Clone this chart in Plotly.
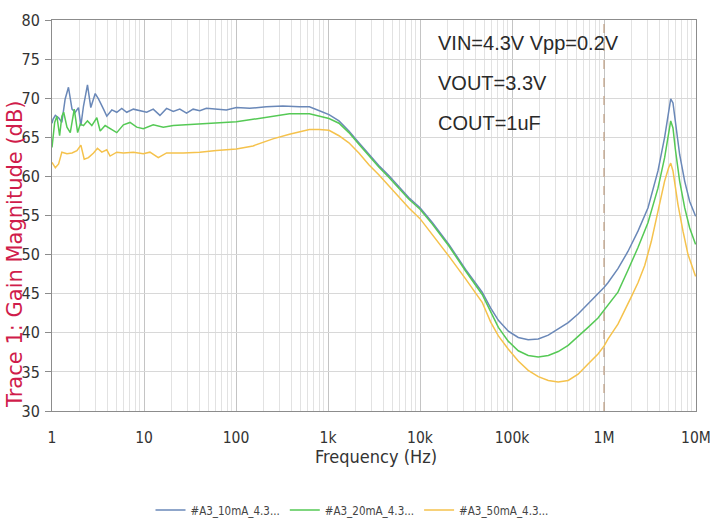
import plotly.graph_objects as go

# ---------------- data ----------------
series_names = ["#A3_10mA_4.3...", "#A3_20mA_4.3...", "#A3_50mA_4.3..."]
series_colors = ["#6a88b8", "#55c955", "#f5c24c"]

freq_10mA = [1.0, 1.025, 1.087, 1.18, 1.28, 1.39, 1.51, 1.65, 1.79, 1.94, 2.06, 2.20, 2.43, 2.64,
             2.95, 3.20, 3.63, 3.94, 4.47, 5.06, 5.73, 6.49, 7.66, 9.06, 10.7, 12.6, 14.9, 17.6,
             20.8, 24.5, 29.0, 34.2, 40.4, 47.7, 61.2, 78.6, 101, 141, 213, 323, 489, 628, 806,
             1025, 1316, 1687, 2166, 2780, 3565, 4577, 5940, 7535, 10000, 13600, 20600, 31300,
             47400, 58500, 71100, 91300, 117000, 150000, 193000, 248000, 318000, 408000, 523000,
             671000, 861000, 1000000, 1104000, 1418000, 1820000, 2340000, 3010000, 3860000,
             4560000, 5040000, 5310000, 5620000, 5960000, 6640000, 7530000, 8540000, 9910000]
gain_10mA = [66.8, 67.3, 67.8, 67.5, 66.9, 69.9, 71.4, 68.6, 68.2, 68.8, 66.5, 69.0, 71.7, 68.8,
             70.6, 69.9, 68.6, 67.7, 68.5, 68.2, 68.7, 68.2, 68.6, 68.4, 68.2, 68.6, 67.8, 68.7,
             68.3, 68.6, 68.1, 68.6, 68.4, 68.7, 68.6, 68.5, 68.8, 68.7, 68.9, 69.0, 68.9, 68.9, 68.4,
             67.9, 67.1, 65.8, 64.3, 62.8, 61.4, 60.1, 58.6, 57.3, 56.0, 54.1, 51.3, 48.1,
             45.2, 43.2, 41.6, 40.2, 39.4, 39.1, 39.2, 39.7, 40.5, 41.3, 42.4,
             43.7, 44.9, 45.8, 46.4, 48.2, 50.4, 53.0, 56.0, 60.7,
             65.0, 68.4, 69.9, 69.4, 67.1, 62.8, 59.4, 56.8, 54.9]

freq_20mA = [1.0, 1.069, 1.13, 1.21, 1.28, 1.34, 1.454, 1.58, 1.745, 1.90, 2.03, 2.20, 2.43, 2.71,
             3.07, 3.34, 3.78, 4.47, 5.06, 5.97, 7.05, 8.33, 9.83, 12.6, 16.2, 20.8, 29.0, 40.4,
             61.2, 101, 153, 252, 381, 628, 806,
             1025, 1316, 1687, 2166, 2780, 3565, 4577, 5940, 7535, 10000, 13600, 20600, 31300,
             47400, 58500, 71100, 91300, 117000, 150000, 193000, 248000, 318000, 408000, 523000,
             671000, 861000, 1000000, 1104000, 1418000, 1820000, 2340000, 3010000, 3860000,
             4560000, 5040000, 5310000, 5620000, 5960000, 6640000, 7530000, 8540000, 9910000]
gain_20mA = [63.7, 66.9, 67.7, 65.2, 67.7, 68.2, 66.3, 65.6, 68.6, 65.6, 66.7, 66.5, 67.1, 66.5,
             67.5, 65.8, 66.5, 66.0, 65.6, 66.6, 66.9, 66.3, 66.1, 66.6, 66.3, 66.5, 66.6, 66.7,
             66.8, 67.0, 67.3, 67.7, 68.0, 68.0, 67.7,
             67.4, 66.8, 65.6, 64.1, 62.6, 61.2, 59.9, 58.4, 57.1, 55.8, 53.9, 51.1, 47.9,
             44.9, 42.8, 40.7, 38.9, 37.7, 37.1, 36.9, 37.1, 37.6, 38.4, 39.5,
             40.7, 41.9, 42.9, 43.5, 45.2, 48.0, 50.9, 54.1, 58.5,
             62.4, 65.6, 67.1, 66.2, 63.5, 59.4, 56.0, 53.4, 51.3]

freq_50mA = [1.0, 1.087, 1.18, 1.28, 1.454, 1.65, 1.866, 2.06, 2.24, 2.49, 2.83, 3.12, 3.48, 3.94,
             4.28, 5.06, 5.97, 7.66, 9.83, 11.6, 14.3, 17.6, 26.7, 40.4, 61.2, 101, 153, 252, 381,
             628, 806,
             1025, 1316, 1687, 2166, 2780, 3565, 4577, 5940, 7535, 10000, 13600, 20600, 31300,
             47400, 58500, 71100, 91300, 117000, 150000, 193000, 248000, 318000, 408000, 523000,
             671000, 861000, 1000000, 1104000, 1418000, 1680000, 1980000, 2340000, 2770000,
             3270000, 3860000, 4560000, 5040000, 5310000, 5620000, 6370000, 7220000, 8190000, 9910000]
gain_50mA = [61.8, 61.1, 61.6, 63.1, 62.9, 63.0, 63.3, 64.0, 62.2, 62.4, 63.0, 63.6, 63.1, 63.4,
             62.6, 63.1, 63.0, 63.1, 62.9, 63.1, 62.4, 63.0, 63.0, 63.1, 63.3, 63.5, 63.9, 64.8, 65.4,
             66.0, 66.0,
             65.9, 65.2, 64.3, 63.0, 61.5, 60.2, 58.8, 57.3, 56.0, 54.6, 52.6, 49.8, 46.9,
             43.9, 41.4, 39.6, 37.9, 36.4, 35.2, 34.4, 33.9, 33.7, 33.9, 34.7,
             36.0, 37.3, 38.3, 39.2, 41.1, 42.8, 44.6, 46.4, 48.6,
             51.7, 55.6, 59.4, 61.1, 61.7, 60.7, 56.4, 53.0, 50.0, 47.2]

x_tick_vals = [1, 10, 100, 1e3, 1e4, 1e5, 1e6, 1e7]
x_tick_text = ["1", "10", "100", "1k", "10k", "100k", "1M", "10M"]
y_tick_vals = [30, 35, 40, 45, 50, 55, 60, 65, 70, 75, 80]

marker_freq = [1e6, 1e6]          # dashed vertical marker
marker_gain = [30, 80]

notes = ["VIN=4.3V Vpp=0.2V", "VOUT=3.3V", "COUT=1uF"]

# ---------------- figure ----------------
W, H = 710, 521
ML, MR, MT, MB = 52, 14, 20, 110
plot_h = H - MT - MB
plot_w = W - ML - MR


def py(pix):  # pixel row -> paper y
    return (H - MB - pix) / plot_h


def px(pix):  # pixel column -> paper x
    return (pix - ML) / plot_w


narrow = "Liberation Sans Narrow, DejaVu Sans Condensed, Arial Narrow, sans-serif"

fig = go.Figure()
fig.add_trace(go.Scatter(x=marker_freq, y=marker_gain, mode="lines",
                         line=dict(color="#c0a084", width=1.2, dash="dash"),
                         showlegend=False, hoverinfo="skip"))
for name, color, fx, gy in zip(series_names, series_colors,
                               [freq_10mA, freq_20mA, freq_50mA],
                               [gain_10mA, gain_20mA, gain_50mA]):
    fig.add_trace(go.Scatter(x=fx, y=gy, mode="lines", name=name,
                             line=dict(color=color, width=1.5)))

fig.update_layout(
    width=W, height=H,
    margin=dict(l=ML, r=MR, t=MT, b=MB, autoexpand=False),
    paper_bgcolor="white", plot_bgcolor="white",
    showlegend=True,
    legend=dict(orientation="h", x=px(352), xanchor="center", y=py(510), yanchor="middle",
                font=dict(family=narrow, size=11.5, color="#444"),
                itemwidth=30, tracegroupgap=0, bgcolor="rgba(0,0,0,0)"),
    xaxis=dict(type="log", range=[0, 7],
               tickmode="array", tickvals=x_tick_vals, ticktext=x_tick_text,
               tickfont=dict(family=narrow, size=15.5, color="#333"),
               ticks="", ticklabelstandoff=12, ticklabeloverflow="allow",
               showgrid=True, gridcolor="#c4c4c4", gridwidth=1,
               minor=dict(showgrid=True, gridcolor="#e2e2e2", gridwidth=1, dtick="D1", ticks=""),
               showline=True, linecolor="#8c8c8c", linewidth=1, mirror=True,
               zeroline=False),
    yaxis=dict(range=[30, 80], tickmode="array", tickvals=y_tick_vals,
               tickfont=dict(family=narrow, size=16, color="#333"),
               ticks="outside", ticklen=6, tickcolor="#8c8c8c", ticklabelstandoff=2,
               showgrid=True, gridcolor="#d8d8d8", gridwidth=1,
               showline=True, linecolor="#8c8c8c", linewidth=1, mirror=True,
               zeroline=False),
)

# axis titles
fig.add_annotation(text="Trace 1: Gain Magnitude (dB)", xref="paper", yref="paper",
                   x=px(15), y=py(254), xanchor="center", yanchor="middle", textangle=-90,
                   showarrow=False, font=dict(family="DejaVu Sans, sans-serif", size=21, color="#d01c4b"))
fig.add_annotation(text="Frequency (Hz)", xref="paper", yref="paper",
                   x=px(376), y=py(456), xanchor="center", yanchor="middle",
                   showarrow=False, font=dict(family=narrow, size=18, color="#333"))

# condition notes
for i, t in enumerate(notes):
    fig.add_annotation(text=t, xref="paper", yref="paper", x=px(436), y=py(43 + 40 * i),
                       xanchor="left", yanchor="middle", showarrow=False,
                       font=dict(family="Liberation Sans, Arial, sans-serif", size=20, color="#2a2a2a"))

fig.write_html("out.html")
